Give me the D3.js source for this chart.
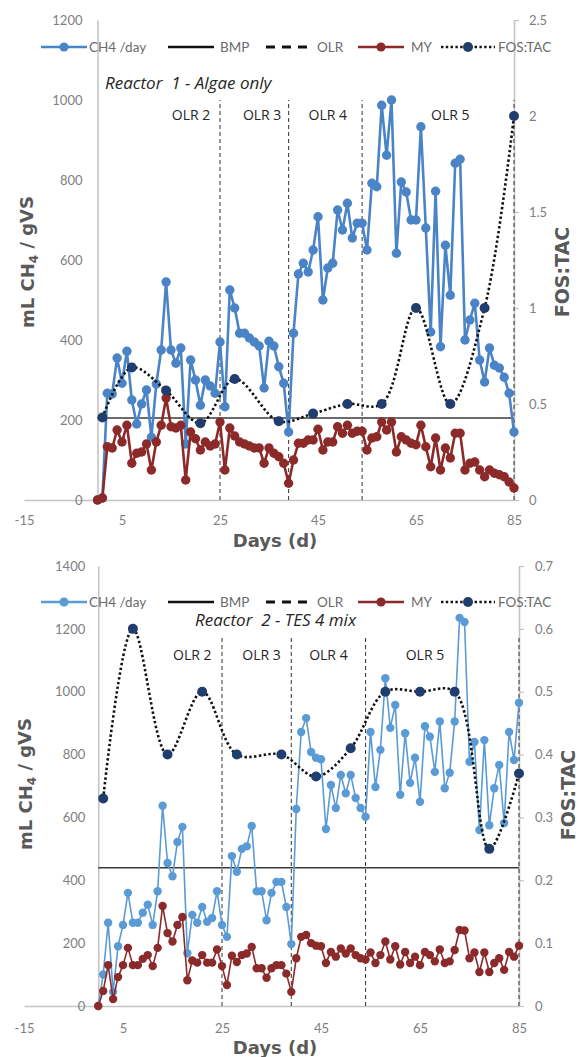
<!DOCTYPE html>
<html>
<head>
<meta charset="utf-8">
<script src="https://cdn.jsdelivr.net/npm/d3@7"></script>
<style>
  html, body { margin: 0; padding: 0; background: #ffffff; }
  svg { display: block; }
</style>
</head>
<body>
<svg id="chart" width="579" height="1057"></svg>
<script>
// ---- Data: daily readings, day 0 to 85 ----
const days = d3.range(0, 86);

// Reactor 1 - Algae only
const r1Methane = [0, 5, 267, 265, 355, 292, 372, 250, 190, 240,
  275, 157, 290, 375, 545, 375, 342, 380, 140, 350,
  300, 237, 300, 285, 267, 395, 233, 525, 480, 417,
  417, 405, 395, 385, 280, 397, 385, 333, 292, 170,
  417, 565, 592, 570, 625, 708, 500, 580, 592, 725,
  675, 742, 655, 692, 692, 625, 792, 783, 987, 862,
  1000, 617, 795, 770, 700, 700, 933, 680, 420, 772,
  383, 637, 512, 842, 852, 400, 450, 492, 350, 295,
  380, 337, 330, 307, 267, 170];
const r1Yield = [0, 5, 133, 130, 175, 145, 187, 92, 117, 120,
  140, 75, 145, 187, 255, 183, 180, 187, 50, 170,
  153, 125, 145, 135, 140, 195, 75, 180, 160, 145,
  140, 135, 130, 130, 92, 130, 117, 108, 92, 42,
  100, 142, 142, 150, 150, 177, 125, 145, 145, 183,
  167, 187, 167, 172, 172, 125, 155, 158, 195, 175,
  195, 120, 158, 150, 142, 138, 187, 133, 83, 155,
  75, 130, 105, 167, 167, 75, 92, 95, 75, 58,
  75, 67, 63, 58, 45, 30];
const r1FosDays = [1, 7, 14, 21, 28, 37, 44, 51, 58, 65, 72, 79, 85];
const r1FosTac = [0.43, 0.69, 0.57, 0.40, 0.63, 0.41, 0.45, 0.50, 0.50, 1.0, 0.50, 1.0, 2.0];
const r1Bmp = 205;
const r1OlrTop = 1000;

// Reactor 2 - TES 4 mix
const r2Methane = [0, 100, 265, 45, 190, 258, 360, 265, 265, 297,
  322, 258, 365, 637, 455, 413, 522, 570, 168, 290,
  265, 315, 268, 280, 365, 258, 220, 477, 427, 500,
  508, 573, 365, 365, 273, 360, 395, 395, 315, 197,
  627, 872, 916, 808, 790, 785, 563, 703, 630, 735,
  677, 735, 662, 630, 602, 872, 697, 815, 1043, 885,
  958, 672, 868, 710, 790, 650, 890, 857, 745, 905,
  693, 742, 905, 1235, 1222, 777, 840, 560, 846, 575,
  693, 767, 582, 872, 783, 965];
const r2Yield = [0, 48, 130, 22, 92, 130, 185, 130, 130, 150,
  162, 127, 185, 318, 232, 205, 258, 283, 82, 145,
  138, 162, 138, 138, 180, 127, 67, 160, 140, 162,
  167, 188, 120, 120, 90, 120, 130, 130, 103, 45,
  152, 220, 226, 200, 192, 190, 137, 172, 157, 183,
  167, 183, 162, 152, 148, 170, 137, 162, 205, 148,
  190, 132, 172, 137, 157, 130, 172, 162, 142, 180,
  137, 142, 178, 242, 240, 152, 170, 108, 170, 108,
  137, 152, 115, 172, 157, 192];
const r2FosDays = [1, 7, 14, 21, 28, 37, 44, 51, 58, 65, 72, 79, 85];
const r2FosTac = [0.33, 0.60, 0.40, 0.50, 0.40, 0.40, 0.365, 0.41, 0.50, 0.50, 0.50, 0.25, 0.37];
const r2Bmp = 440;
const r2OlrTop = 1180;

// Loading-rate change days and period labels
const olrDays = [25, 39, 54, 85];
const olrLabels = ["OLR 2", "OLR 3", "OLR 4", "OLR 5"];

// Tick labels
const xTicks = [-15, 5, 25, 45, 65, 85];
const r1LeftTicks = [0, 200, 400, 600, 800, 1000, 1200];
const r1RightTicks = [0, 0.5, 1, 1.5, 2, 2.5];
const r2LeftTicks = [0, 200, 400, 600, 800, 1000, 1200, 1400];
const r2RightTicks = [0, 0.1, 0.2, 0.3, 0.4, 0.5, 0.6, 0.7];

const legendNames = ["CH4 /day", "BMP", "OLR", "MY", "FOS:TAC"];

// ---- Drawing ----
const svg = d3.select("#chart");
const fmt = v => String(v);

const panels = [
  {
    title: "Reactor  1 - Algae only",
    methane: r1Methane, yieldVals: r1Yield, fosDays: r1FosDays, fos: r1FosTac,
    bmp: r1Bmp, olrTop: r1OlrTop, leftTicks: r1LeftTicks, rightTicks: r1RightTicks,
    xRange: [24, 514], yRange: [500, 20], yMax: 1200, y2Max: 2.5,
    blue: "#4a84c6", red: "#8c2a2a", lineW: 2.6, r: 4.7,
    legendY: 47, titleX: 105, titleY: 89, olrLabelY: 120,
    olrLabelDays: [19.1, 33.6, 47, 72],
    leftTitleX: 28, leftTitleY: 262, rightTitleX: 562, rightTitleY: 272,
    xTickY: 525, xTitleY: 547, leftPad: 15, rightPad: 10
  },
  {
    title: "Reactor  2 - TES 4 mix",
    methane: r2Methane, yieldVals: r2Yield, fosDays: r2FosDays, fos: r2FosTac,
    bmp: r2Bmp, olrTop: r2OlrTop, leftTicks: r2LeftTicks, rightTicks: r2RightTicks,
    xRange: [24, 519], yRange: [1006, 566], yMax: 1400, y2Max: 0.7,
    blue: "#5b9bd5", red: "#8b2a2a", lineW: 1.6, r: 4.2,
    legendY: 602, titleX: 195, titleY: 626, olrLabelY: 660,
    olrLabelDays: [19, 33, 46.5, 66],
    leftTitleX: 26, leftTitleY: 784, rightTitleX: 568, rightTitleY: 795,
    xTickY: 1033, xTitleY: 1054, leftPad: 13, rightPad: 11
  }
];

const legendLayout = [
  { lx: 41, tx: 89 }, { lx: 168, tx: 220 }, { lx: 266, tx: 317 },
  { lx: 358, tx: 411 }, { lx: 441, tx: 498 }
];

panels.forEach(p => {
  const x = d3.scaleLinear().domain([-15, 85]).range(p.xRange);
  const y = d3.scaleLinear().domain([0, p.yMax]).range(p.yRange);
  const y2 = d3.scaleLinear().domain([0, p.y2Max]).range(p.yRange);
  const g = svg.append("g");

  // axes
  const xAxis = g.append("g")
    .attr("transform", `translate(0,${y(0)})`)
    .call(d3.axisBottom(x).tickValues(xTicks).tickSize(0).tickSizeOuter(0).tickPadding(0).tickFormat(fmt));
  xAxis.selectAll("text").attr("y", p.xTickY - y(0)).attr("dy", null);

  const leftAxis = g.append("g")
    .attr("transform", `translate(${x(0)},0)`)
    .call(d3.axisLeft(y).tickValues(p.leftTicks).tickSize(0).tickSizeOuter(0).tickPadding(p.leftPad).tickFormat(fmt));

  const rightAxis = g.append("g")
    .attr("transform", `translate(${x(85)},0)`)
    .call(d3.axisRight(y2).tickValues(p.rightTicks).tickSize(5).tickSizeOuter(0).tickPadding(p.rightPad).tickFormat(fmt));

  [xAxis, leftAxis, rightAxis].forEach(a => {
    a.select(".domain").attr("stroke", "#c4c4c4").attr("stroke-width", 1.6);
    a.selectAll(".tick line").attr("stroke", "#c4c4c4").attr("stroke-width", 1.2);
    a.selectAll("text").attr("fill", "#808080")
      .style("font-family", "Lato, 'Open Sans', sans-serif").style("font-size", "13px");
  });
  xAxis.selectAll(".tick line").remove();
  leftAxis.selectAll(".tick line").remove();

  // BMP reference line
  g.append("line")
    .attr("x1", x(0)).attr("x2", x(85))
    .attr("y1", y(p.bmp)).attr("y2", y(p.bmp))
    .attr("stroke", "#3a3a3a").attr("stroke-width", 1.5);

  // OLR change lines
  g.selectAll(".olr").data(olrDays).join("line")
    .attr("x1", d => x(d)).attr("x2", d => x(d))
    .attr("y1", y(0)).attr("y2", y(p.olrTop))
    .attr("stroke", "#444").attr("stroke-width", 1.1)
    .attr("stroke-dasharray", "4,3");

  g.selectAll(".olrLabel").data(olrLabels).join("text")
    .attr("x", (d, i) => x(p.olrLabelDays[i]))
    .attr("y", p.olrLabelY)
    .attr("text-anchor", "middle")
    .attr("fill", "#262626")
    .style("font-family", "'Open Sans', sans-serif").style("font-size", "14px")
    .text(d => d);

  // daily series
  const line = d3.line().x(d => x(d[0])).y(d => y(d[1]));
  const series = [
    { vals: p.methane, color: p.blue },
    { vals: p.yieldVals, color: p.red }
  ];
  series.forEach(s => {
    const pts = days.map((d, i) => [d, s.vals[i]]);
    g.append("path").datum(pts)
      .attr("d", line).attr("fill", "none")
      .attr("stroke", s.color).attr("stroke-width", p.lineW)
      .attr("stroke-linejoin", "round");
    g.append("g").selectAll("circle").data(pts).join("circle")
      .attr("cx", d => x(d[0])).attr("cy", d => y(d[1]))
      .attr("r", p.r).attr("fill", s.color);
  });

  // FOS:TAC on the right axis, smoothed
  const fosPts = p.fosDays.map((d, i) => [d, p.fos[i]]);
  const fosLine = d3.line().x(d => x(d[0])).y(d => y2(d[1])).curve(d3.curveCatmullRom.alpha(0.5));
  g.append("path").datum(fosPts)
    .attr("d", fosLine).attr("fill", "none")
    .attr("stroke", "#111").attr("stroke-width", 2.6)
    .attr("stroke-dasharray", "2.4,2.4");
  g.append("g").selectAll("circle").data(fosPts).join("circle")
    .attr("cx", d => x(d[0])).attr("cy", d => y2(d[1]))
    .attr("r", 5).attr("fill", "#1f3e6d");

  // legend
  const lg = g.append("g").attr("transform", `translate(0,${p.legendY})`);
  legendNames.forEach((name, i) => {
    const L = legendLayout[i];
    const w = 46;
    const item = lg.append("g");
    if (i === 0 || i === 3) {
      const c = i === 0 ? p.blue : p.red;
      item.append("line").attr("x1", L.lx).attr("x2", L.lx + w).attr("y1", 0).attr("y2", 0)
        .attr("stroke", c).attr("stroke-width", 2.4);
      item.append("circle").attr("cx", L.lx + w / 2).attr("cy", 0).attr("r", 4.6).attr("fill", c);
    } else if (i === 1) {
      item.append("line").attr("x1", L.lx).attr("x2", L.lx + w).attr("y1", 0).attr("y2", 0)
        .attr("stroke", "#111").attr("stroke-width", 2.6);
    } else if (i === 2) {
      item.append("line").attr("x1", L.lx).attr("x2", L.lx + w).attr("y1", 0).attr("y2", 0)
        .attr("stroke", "#111").attr("stroke-width", 2.8).attr("stroke-dasharray", "9,7");
    } else {
      item.append("line").attr("x1", L.lx).attr("x2", L.lx + 54).attr("y1", 0).attr("y2", 0)
        .attr("stroke", "#111").attr("stroke-width", 2.6).attr("stroke-dasharray", "2.4,2.4");
      item.append("circle").attr("cx", L.lx + 27).attr("cy", 0).attr("r", 5).attr("fill", "#1f3e6d");
    }
    item.append("text").attr("x", L.tx).attr("y", 4.5)
      .attr("fill", "#6b6b6b")
      .style("font-family", "Lato, 'Open Sans', sans-serif").style("font-size", "13.5px")
      .text(name);
  });

  // chart title
  g.append("text").attr("x", p.titleX).attr("y", p.titleY)
    .attr("fill", "#262626")
    .style("font-family", "'Open Sans', sans-serif").style("font-size", "17px")
    .style("font-style", "italic").style("white-space", "pre")
    .text(p.title);

  // axis titles
  const titleStyle = (sel, size) => sel.attr("fill", "#595959")
    .style("font-family", "'DejaVu Sans', sans-serif").style("font-weight", "bold").style("font-size", size);

  g.append("text").attr("x", 275).attr("y", p.xTitleY).attr("text-anchor", "middle")
    .call(titleStyle, "18px").text("Days (d)");

  const lt = g.append("text")
    .attr("transform", `translate(${p.leftTitleX},${p.leftTitleY}) rotate(-90)`)
    .attr("text-anchor", "middle").attr("dy", "0.35em").call(titleStyle, "18px");
  lt.append("tspan").text("mL CH");
  lt.append("tspan").attr("dy", "0.3em").style("font-size", "12px").text("4");
  lt.append("tspan").attr("dy", "-0.3em").text(" / gVS");

  g.append("text")
    .attr("transform", `translate(${p.rightTitleX},${p.rightTitleY}) rotate(-90)`)
    .attr("text-anchor", "middle").attr("dy", "0.35em").call(titleStyle, "19px")
    .text("FOS:TAC");
});
</script>
</body>
</html>
